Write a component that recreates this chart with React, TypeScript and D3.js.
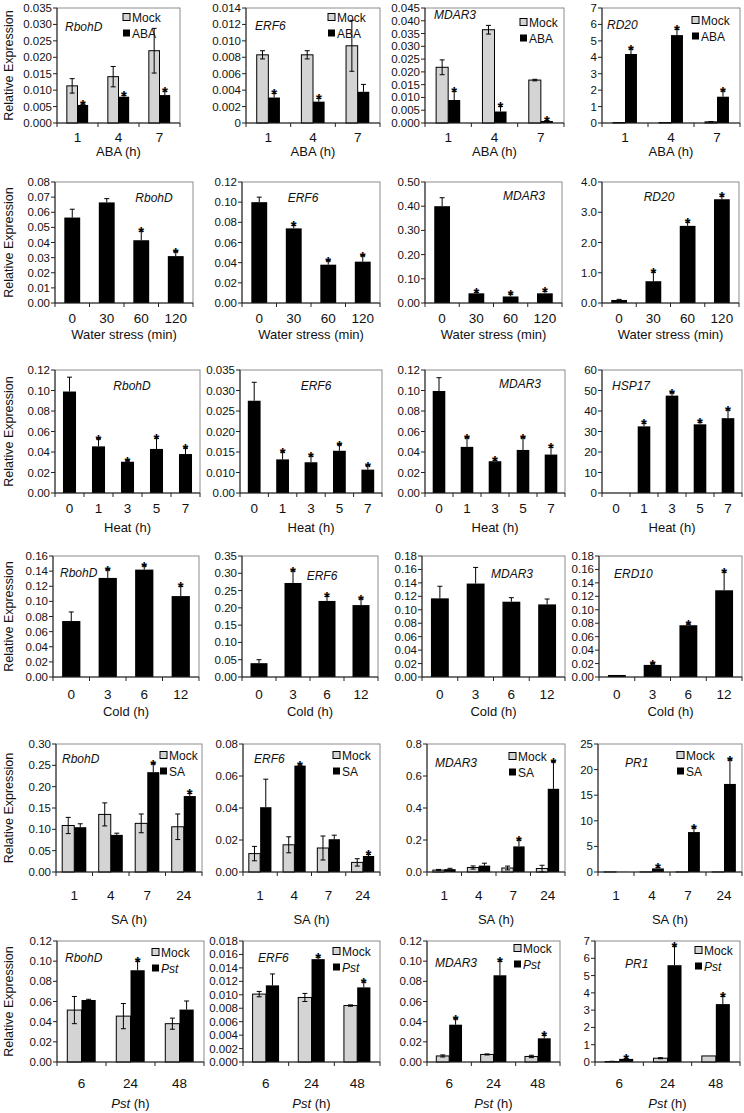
import React from 'react';
import * as d3 from 'd3';

// ---------------- DATA ----------------
// Row 1: ABA (h), Mock vs ABA
const abaTimes = ['1', '4', '7'];
const abaRbohdMock = [0.0113, 0.0141, 0.022];
const abaRbohdMockErr = [0.0022, 0.0031, 0.0068];
const abaRbohdTrt = [0.0055, 0.008, 0.0085];
const abaRbohdTrtErr = [0.0003, 0.0004, 0.0012];
const abaRbohdSig = [1, 1, 1];
const abaErf6Mock = [0.0083, 0.0083, 0.0094];
const abaErf6MockErr = [0.0005, 0.0005, 0.0031];
const abaErf6Trt = [0.0031, 0.0026, 0.0038];
const abaErf6TrtErr = [0.0005, 0.0004, 0.0009];
const abaErf6Sig = [1, 1, 0];
const abaMdar3Mock = [0.0218, 0.0365, 0.0168];
const abaMdar3MockErr = [0.0029, 0.0017, 0.0003];
const abaMdar3Trt = [0.009, 0.0045, 0.0008];
const abaMdar3TrtErr = [0.0034, 0.002, 0.0002];
const abaMdar3Sig = [1, 1, 1];
const abaRd20Mock = [0.03, 0.03, 0.07];
const abaRd20MockErr = [0, 0, 0.02];
const abaRd20Trt = [4.2, 5.35, 1.6];
const abaRd20TrtErr = [0.3, 0.35, 0.35];
const abaRd20Sig = [1, 1, 1];

// Row 2: Water stress (min)
const waterTimes = ['0', '30', '60', '120'];
const waterRbohd = [0.0565, 0.0665, 0.0415, 0.031];
const waterRbohdErr = [0.0055, 0.0025, 0.006, 0.003];
const waterRbohdSig = [0, 0, 1, 1];
const waterErf6 = [0.1, 0.074, 0.038, 0.041];
const waterErf6Err = [0.005, 0.003, 0.004, 0.006];
const waterErf6Sig = [0, 1, 1, 1];
const waterMdar3 = [0.4, 0.04, 0.027, 0.04];
const waterMdar3Err = [0.035, 0.004, 0.01, 0.008];
const waterMdar3Sig = [0, 1, 1, 1];
const waterRd20 = [0.1, 0.72, 2.55, 3.43];
const waterRd20Err = [0.02, 0.3, 0.12, 0.1];
const waterRd20Sig = [0, 1, 1, 1];

// Row 3: Heat (h)
const heatTimes = ['0', '1', '3', '5', '7'];
const heatRbohd = [0.099, 0.0455, 0.0305, 0.043, 0.038];
const heatRbohdErr = [0.014, 0.0075, 0.001, 0.0105, 0.006];
const heatRbohdSig = [0, 1, 1, 1, 1];
const heatErf6 = [0.0275, 0.0132, 0.0125, 0.0153, 0.0107];
const heatErf6Err = [0.0045, 0.0018, 0.0015, 0.0015, 0.001];
const heatErf6Sig = [0, 1, 1, 1, 1];
const heatMdar3 = [0.0995, 0.045, 0.031, 0.042, 0.0375];
const heatMdar3Err = [0.013, 0.009, 0.001, 0.012, 0.007];
const heatMdar3Sig = [0, 1, 1, 1, 1];
const heatHsp17 = [0, 32.5, 47.5, 33.5, 36.5];
const heatHsp17Err = [0, 1.5, 1.5, 1, 4];
const heatHsp17Sig = [0, 1, 1, 1, 1];

// Row 4: Cold (h)
const coldTimes = ['0', '3', '6', '12'];
const coldRbohd = [0.074, 0.131, 0.142, 0.107];
const coldRbohdErr = [0.012, 0.011, 0.005, 0.013];
const coldRbohdSig = [0, 1, 1, 1];
const coldErf6 = [0.04, 0.272, 0.22, 0.208];
const coldErf6Err = [0.01, 0.035, 0.013, 0.018];
const coldErf6Sig = [0, 1, 1, 1];
const coldMdar3 = [0.117, 0.139, 0.112, 0.108];
const coldMdar3Err = [0.018, 0.024, 0.006, 0.008];
const coldMdar3Sig = [0, 0, 0, 0];
const coldErd10 = [0.003, 0.018, 0.077, 0.129];
const coldErd10Err = [0, 0.002, 0.002, 0.027];
const coldErd10Sig = [0, 1, 1, 1];

// Row 5: SA (h), Mock vs SA
const saTimes = ['1', '4', '7', '24'];
const saRbohdMock = [0.109, 0.135, 0.114, 0.106];
const saRbohdMockErr = [0.019, 0.027, 0.022, 0.03];
const saRbohdTrt = [0.105, 0.087, 0.234, 0.178];
const saRbohdTrtErr = [0.008, 0.004, 0.02, 0.006];
const saRbohdSig = [0, 0, 1, 1];
const saErf6Mock = [0.0115, 0.017, 0.015, 0.006];
const saErf6MockErr = [0.0045, 0.005, 0.0075, 0.0023];
const saErf6Trt = [0.0405, 0.0665, 0.0205, 0.01];
const saErf6TrtErr = [0.0175, 0.0005, 0.0025, 0.001];
const saErf6Sig = [0, 1, 0, 1];
const saMdar3Mock = [0.012, 0.028, 0.025, 0.022];
const saMdar3MockErr = [0.004, 0.01, 0.012, 0.02];
const saMdar3Trt = [0.018, 0.04, 0.16, 0.52];
const saMdar3TrtErr = [0.005, 0.015, 0.04, 0.17];
const saMdar3Sig = [0, 0, 1, 1];
const saPr1Mock = [0.02, 0.02, 0.02, 0.02];
const saPr1MockErr = [0, 0, 0, 0];
const saPr1Trt = [0.02, 0.7, 7.8, 17.2];
const saPr1TrtErr = [0, 0.2, 0.8, 4.7];
const saPr1Sig = [0, 1, 1, 1];

// Row 6: Pst (h), Mock vs Pst
const pstTimes = ['6', '24', '48'];
const pstRbohdMock = [0.0515, 0.0455, 0.038];
const pstRbohdMockErr = [0.0135, 0.0125, 0.0055];
const pstRbohdTrt = [0.0615, 0.091, 0.052];
const pstRbohdTrtErr = [0.0007, 0.009, 0.0085];
const pstRbohdSig = [0, 1, 0];
const pstErf6Mock = [0.0101, 0.0096, 0.0084];
const pstErf6MockErr = [0.0004, 0.0006, 0.0001];
const pstErf6Trt = [0.0114, 0.0153, 0.0111];
const pstErf6TrtErr = [0.0017, 0.0003, 0.0008];
const pstErf6Sig = [0, 1, 1];
const pstMdar3Mock = [0.006, 0.0075, 0.0055];
const pstMdar3MockErr = [0.001, 0.0005, 0.0012];
const pstMdar3Trt = [0.037, 0.086, 0.0235];
const pstMdar3TrtErr = [0.006, 0.014, 0.003];
const pstMdar3Sig = [1, 1, 1];
const pstPr1Mock = [0.03, 0.22, 0.35];
const pstPr1MockErr = [0.01, 0.03, 0];
const pstPr1Trt = [0.18, 5.6, 3.35];
const pstPr1TrtErr = [0.03, 1.1, 0.45];
const pstPr1Sig = [1, 1, 1];

// Y tick labels
const ticksAbaRbohd = ['0.000', '0.005', '0.010', '0.015', '0.020', '0.025', '0.030', '0.035'];
const ticksAbaErf6 = ['0', '0.002', '0.004', '0.006', '0.008', '0.010', '0.012', '0.014'];
const ticksAbaMdar3 = ['0.000', '0.005', '0.010', '0.015', '0.020', '0.025', '0.030', '0.035', '0.040', '0.045'];
const ticksAbaRd20 = ['0', '1', '2', '3', '4', '5', '6', '7'];
const ticksWaterRbohd = ['0.00', '0.01', '0.02', '0.03', '0.04', '0.05', '0.06', '0.07', '0.08'];
const ticksWaterErf6 = ['0.00', '0.02', '0.04', '0.06', '0.08', '0.10', '0.12'];
const ticksWaterMdar3 = ['0.00', '0.10', '0.20', '0.30', '0.40', '0.50'];
const ticksWaterRd20 = ['0.0', '1.0', '2.0', '3.0', '4.0'];
const ticksHeatRbohd = ['0.00', '0.02', '0.04', '0.06', '0.08', '0.10', '0.12'];
const ticksHeatErf6 = ['0.00', '0.010', '0.015', '0.020', '0.025', '0.030', '0.035'];
const tickValsHeatErf6 = [0.005, 0.01, 0.015, 0.02, 0.025, 0.03, 0.035];
const ticksHeatHsp17 = ['0', '10', '20', '30', '40', '50', '60'];
const ticksCold016 = ['0.00', '0.02', '0.04', '0.06', '0.08', '0.10', '0.12', '0.14', '0.16'];
const ticksColdErf6 = ['0.00', '0.05', '0.10', '0.15', '0.20', '0.25', '0.30', '0.35'];
const ticksCold018 = ['0.00', '0.02', '0.04', '0.06', '0.08', '0.10', '0.12', '0.14', '0.16', '0.18'];
const ticksSaRbohd = ['0.00', '0.05', '0.10', '0.15', '0.20', '0.25', '0.30'];
const ticksSaErf6 = ['0.00', '0.02', '0.04', '0.06', '0.08'];
const ticksSaMdar3 = ['0.0', '0.2', '0.4', '0.6', '0.8'];
const ticksSaPr1 = ['0', '5', '10', '15', '20', '25'];
const ticksPstRbohd = ['0.00', '0.02', '0.04', '0.06', '0.08', '0.10', '0.12'];
const ticksPstErf6 = ['0.000', '0.002', '0.004', '0.006', '0.008', '0.010', '0.012', '0.014', '0.016', '0.018'];
const ticksPstMdar3 = ['0.00', '0.02', '0.04', '0.06', '0.08', '0.10', '0.12'];
const ticksPstPr1 = ['0', '1', '2', '3', '4', '5', '6', '7'];

// ---------------- LAYOUT ----------------
const FONT = "'Liberation Sans', Arial, Helvetica, sans-serif";
const MOCK_FILL = '#d4d4d4';

type Row = {
  top: number; bottom: number; tickY: number; titleY: number;
  cols: number[][]; barFrac: number;
};
const rowLayout: Row[] = [
  { top: 8, bottom: 123, tickY: 142, titleY: 156, cols: [[57, 180], [246, 380], [425, 564], [602, 740]], barFrac: 0.26 },
  { top: 182, bottom: 303, tickY: 323, titleY: 339, cols: [[55, 193], [242, 380], [425, 562], [602, 739]], barFrac: 0.46 },
  { top: 370, bottom: 493, tickY: 513, titleY: 532, cols: [[55, 200], [240, 382], [425, 565], [602, 742]], barFrac: 0.45 },
  { top: 556, bottom: 677, tickY: 699, titleY: 716, cols: [[53, 199], [242, 378], [422, 565], [599, 742]], barFrac: 0.5 },
  { top: 744, bottom: 872, tickY: 900, titleY: 924, cols: [[56, 202], [243, 380], [427, 565], [598, 742]], barFrac: 0.33 },
  { top: 941, bottom: 1062, tickY: 1088, titleY: 1108, cols: [[57, 204], [243, 380], [427, 560], [595, 740]], barFrac: 0.29 },
];

const geneLabelPos: [number, number, string][][] = [
  [[8, 23, 'start'], [9, 22, 'start'], [9, 11, 'start'], [5, 21, 'start']],
  [[99, 20, 'middle'], [61, 20, 'middle'], [99, 18, 'middle'], [57, 19, 'middle']],
  [[77, 20, 'middle'], [76, 20, 'middle'], [95, 18, 'middle'], [10, 20, 'start']],
  [[7, 21, 'start'], [80, 24, 'middle'], [90, 22, 'middle'], [15, 22, 'start']],
  [[6, 19, 'start'], [11, 19, 'start'], [8, 23, 'start'], [27, 23, 'start']],
  [[8, 21, 'start'], [15, 21, 'start'], [8, 26, 'start'], [30, 27, 'start']],
];
const legendPos: ([number, number][] | null)[] = [
  [[66, 9], [82, 9], [95, 14], [90, 12]],
  null, null, null,
  [[104, 11], [90, 11], [82, 12], [79, 11]],
  [[95, 11], [90, 10], [87, 7], [100, 9]],
];

type Panel = {
  gene: string;
  mock?: number[]; mockErr?: number[];
  trt: number[]; trtErr: number[]; sig: number[];
  ticks: string[]; tickVals?: number[];
};
type RowData = { cats: string[]; xTitle: string; trtName?: string; italicTrt?: boolean; panels: Panel[] };

const rows: RowData[] = [
  {
    cats: abaTimes, xTitle: 'ABA (h)', trtName: 'ABA',
    panels: [
      { gene: 'RbohD', mock: abaRbohdMock, mockErr: abaRbohdMockErr, trt: abaRbohdTrt, trtErr: abaRbohdTrtErr, sig: abaRbohdSig, ticks: ticksAbaRbohd },
      { gene: 'ERF6', mock: abaErf6Mock, mockErr: abaErf6MockErr, trt: abaErf6Trt, trtErr: abaErf6TrtErr, sig: abaErf6Sig, ticks: ticksAbaErf6 },
      { gene: 'MDAR3', mock: abaMdar3Mock, mockErr: abaMdar3MockErr, trt: abaMdar3Trt, trtErr: abaMdar3TrtErr, sig: abaMdar3Sig, ticks: ticksAbaMdar3 },
      { gene: 'RD20', mock: abaRd20Mock, mockErr: abaRd20MockErr, trt: abaRd20Trt, trtErr: abaRd20TrtErr, sig: abaRd20Sig, ticks: ticksAbaRd20 },
    ],
  },
  {
    cats: waterTimes, xTitle: 'Water stress (min)',
    panels: [
      { gene: 'RbohD', trt: waterRbohd, trtErr: waterRbohdErr, sig: waterRbohdSig, ticks: ticksWaterRbohd },
      { gene: 'ERF6', trt: waterErf6, trtErr: waterErf6Err, sig: waterErf6Sig, ticks: ticksWaterErf6 },
      { gene: 'MDAR3', trt: waterMdar3, trtErr: waterMdar3Err, sig: waterMdar3Sig, ticks: ticksWaterMdar3 },
      { gene: 'RD20', trt: waterRd20, trtErr: waterRd20Err, sig: waterRd20Sig, ticks: ticksWaterRd20 },
    ],
  },
  {
    cats: heatTimes, xTitle: 'Heat (h)',
    panels: [
      { gene: 'RbohD', trt: heatRbohd, trtErr: heatRbohdErr, sig: heatRbohdSig, ticks: ticksHeatRbohd },
      { gene: 'ERF6', trt: heatErf6, trtErr: heatErf6Err, sig: heatErf6Sig, ticks: ticksHeatErf6, tickVals: tickValsHeatErf6 },
      { gene: 'MDAR3', trt: heatMdar3, trtErr: heatMdar3Err, sig: heatMdar3Sig, ticks: ticksHeatRbohd },
      { gene: 'HSP17', trt: heatHsp17, trtErr: heatHsp17Err, sig: heatHsp17Sig, ticks: ticksHeatHsp17 },
    ],
  },
  {
    cats: coldTimes, xTitle: 'Cold (h)',
    panels: [
      { gene: 'RbohD', trt: coldRbohd, trtErr: coldRbohdErr, sig: coldRbohdSig, ticks: ticksCold016 },
      { gene: 'ERF6', trt: coldErf6, trtErr: coldErf6Err, sig: coldErf6Sig, ticks: ticksColdErf6 },
      { gene: 'MDAR3', trt: coldMdar3, trtErr: coldMdar3Err, sig: coldMdar3Sig, ticks: ticksCold018 },
      { gene: 'ERD10', trt: coldErd10, trtErr: coldErd10Err, sig: coldErd10Sig, ticks: ticksCold018 },
    ],
  },
  {
    cats: saTimes, xTitle: 'SA (h)', trtName: 'SA',
    panels: [
      { gene: 'RbohD', mock: saRbohdMock, mockErr: saRbohdMockErr, trt: saRbohdTrt, trtErr: saRbohdTrtErr, sig: saRbohdSig, ticks: ticksSaRbohd },
      { gene: 'ERF6', mock: saErf6Mock, mockErr: saErf6MockErr, trt: saErf6Trt, trtErr: saErf6TrtErr, sig: saErf6Sig, ticks: ticksSaErf6 },
      { gene: 'MDAR3', mock: saMdar3Mock, mockErr: saMdar3MockErr, trt: saMdar3Trt, trtErr: saMdar3TrtErr, sig: saMdar3Sig, ticks: ticksSaMdar3 },
      { gene: 'PR1', mock: saPr1Mock, mockErr: saPr1MockErr, trt: saPr1Trt, trtErr: saPr1TrtErr, sig: saPr1Sig, ticks: ticksSaPr1 },
    ],
  },
  {
    cats: pstTimes, xTitle: 'Pst', trtName: 'Pst', italicTrt: true,
    panels: [
      { gene: 'RbohD', mock: pstRbohdMock, mockErr: pstRbohdMockErr, trt: pstRbohdTrt, trtErr: pstRbohdTrtErr, sig: pstRbohdSig, ticks: ticksPstRbohd },
      { gene: 'ERF6', mock: pstErf6Mock, mockErr: pstErf6MockErr, trt: pstErf6Trt, trtErr: pstErf6TrtErr, sig: pstErf6Sig, ticks: ticksPstErf6 },
      { gene: 'MDAR3', mock: pstMdar3Mock, mockErr: pstMdar3MockErr, trt: pstMdar3Trt, trtErr: pstMdar3TrtErr, sig: pstMdar3Sig, ticks: ticksPstMdar3 },
      { gene: 'PR1', mock: pstPr1Mock, mockErr: pstPr1MockErr, trt: pstPr1Trt, trtErr: pstPr1TrtErr, sig: pstPr1Sig, ticks: ticksPstPr1 },
    ],
  },
];

// ---------------- DRAWING ----------------
function ErrBar({ x, y0, y1, both, cap }: { x: number; y0: number; y1: number; both: boolean; cap: number }) {
  return (
    <g stroke="#000" strokeWidth={1}>
      <line x1={x} x2={x} y1={y0} y2={y1} />
      <line x1={x - cap} x2={x + cap} y1={y1} y2={y1} />
      {both && <line x1={x - cap} x2={x + cap} y1={y0} y2={y0} />}
    </g>
  );
}

function PanelView({ rd, p, ri, ci }: { rd: RowData; p: Panel; ri: number; ci: number }) {
  const row = rowLayout[ri];
  const [l, r] = row.cols[ci];
  const tickVals = p.tickVals ?? p.ticks.map(Number);
  const y = d3.scaleLinear().domain([tickVals[0], tickVals[tickVals.length - 1]]).range([row.bottom, row.top]);
  const x = d3.scaleBand<string>().domain(rd.cats).range([l, r]).paddingInner(0).paddingOuter(0);
  const bw = x.bandwidth() * row.barFrac;
  const base = y(tickVals[0]);
  const grouped = !!p.mock;
  const cap = 2.5;
  const boundaries = d3.range(rd.cats.length + 1).map((i) => l + i * x.step());
  const gl = geneLabelPos[ri][ci];
  const lg = legendPos[ri]?.[ci];

  return (
    <g>
      {/* frame */}
      <rect x={l} y={row.top} width={r - l} height={row.bottom - row.top} fill="none" stroke="#8c8c8c" strokeWidth={1} />
      {/* bars */}
      {rd.cats.map((c, i) => {
        const cx = (x(c) ?? 0) + x.bandwidth() / 2;
        const els: React.ReactNode[] = [];
        let tx: number;
        if (grouped) {
          const mv = p.mock![i];
          const me = p.mockErr![i];
          const mx = cx - bw;
          if (mv > tickVals[0]) {
            els.push(<rect key="m" x={mx} y={y(mv)} width={bw} height={base - y(mv)} fill={MOCK_FILL} stroke="#000" strokeWidth={1} />);
          }
          if (me > 0) {
            els.push(<ErrBar key="me" x={mx + bw / 2} y0={y(Math.max(tickVals[0], mv - me))} y1={y(mv + me)} both cap={cap} />);
          }
          tx = cx;
        } else {
          tx = cx - bw / 2;
        }
        const tv = p.trt[i];
        const te = p.trtErr[i];
        if (tv > tickVals[0]) {
          els.push(<rect key="t" x={tx} y={y(tv)} width={bw} height={base - y(tv)} fill="#000" />);
        }
        if (te > 0) {
          els.push(<ErrBar key="te" x={tx + bw / 2} y0={y(tv)} y1={y(tv + te)} both={false} cap={cap} />);
        }
        if (p.sig[i]) {
          els.push(
            <text key="s" x={tx + bw / 2} y={y(tv + te) + 6} textAnchor="middle" fontSize={15} fontWeight="bold" fontFamily={FONT} fill="#000">*</text>
          );
        }
        return <g key={c}>{els}</g>;
      })}
      {/* y axis */}
      <line x1={l} x2={l} y1={row.top} y2={row.bottom} stroke="#222" strokeWidth={1} />
      {tickVals.map((v, i) => (
        <g key={i}>
          <line x1={l - 4} x2={l} y1={y(v)} y2={y(v)} stroke="#222" strokeWidth={1} />
          <text x={l - 5} y={y(v)} dy="0.35em" textAnchor="end" fontSize={11.5} fontFamily={FONT} fill="#111">{p.ticks[i]}</text>
        </g>
      ))}
      {/* x axis */}
      <line x1={l} x2={r} y1={row.bottom} y2={row.bottom} stroke="#222" strokeWidth={1} />
      {boundaries.map((bx, i) => (
        <line key={i} x1={bx} x2={bx} y1={row.bottom} y2={row.bottom + 4} stroke="#222" strokeWidth={1} />
      ))}
      {rd.cats.map((c) => (
        <text key={c} x={(x(c) ?? 0) + x.bandwidth() / 2} y={row.tickY} textAnchor="middle" fontSize={13.5} fontFamily={FONT} fill="#111">{c}</text>
      ))}
      <text x={(l + r) / 2} y={row.titleY} textAnchor="middle" fontSize={13} fontFamily={FONT} fill="#111">
        {rd.italicTrt ? (<><tspan fontStyle="italic">{rd.xTitle}</tspan> (h)</>) : rd.xTitle}
      </text>
      {/* gene label */}
      <text x={l + gl[0]} y={row.top + gl[1]} textAnchor={gl[2]} fontSize={12} fontStyle="italic" fontFamily={FONT} fill="#111">{p.gene}</text>
      {/* legend */}
      {grouped && lg && (
        <g fontFamily={FONT} fontSize={12} fill="#111">
          <rect x={l + lg[0]} y={row.top + lg[1] - 3.5} width={7} height={7} fill={MOCK_FILL} stroke="#000" strokeWidth={1} />
          <text x={l + lg[0] + 9} y={row.top + lg[1] + 4.5}>Mock</text>
          <rect x={l + lg[0]} y={row.top + lg[1] + 16 - 3.5} width={7} height={7} fill="#000" />
          <text x={l + lg[0] + 9} y={row.top + lg[1] + 16 + 4.5} fontStyle={rd.italicTrt ? 'italic' : 'normal'}>{rd.trtName}</text>
        </g>
      )}
    </g>
  );
}

export default function App() {
  return (
    <svg width={744} height={1113} viewBox="0 0 744 1113" style={{ position: 'absolute', left: 0, top: 0, background: '#fff' }}>
      <rect x={0} y={0} width={744} height={1113} fill="#fff" />
      {rows.map((rd, ri) => {
        const row = rowLayout[ri];
        const cy = (row.top + row.bottom) / 2;
        return (
          <g key={ri}>
            <text transform={`translate(12.5,${cy}) rotate(-90)`} textAnchor="middle" fontSize={12.5} fontFamily={FONT} fill="#111">Relative Expression</text>
            {rd.panels.map((p, ci) => (
              <PanelView key={ci} rd={rd} p={p} ri={ri} ci={ci} />
            ))}
          </g>
        );
      })}
    </svg>
  );
}
